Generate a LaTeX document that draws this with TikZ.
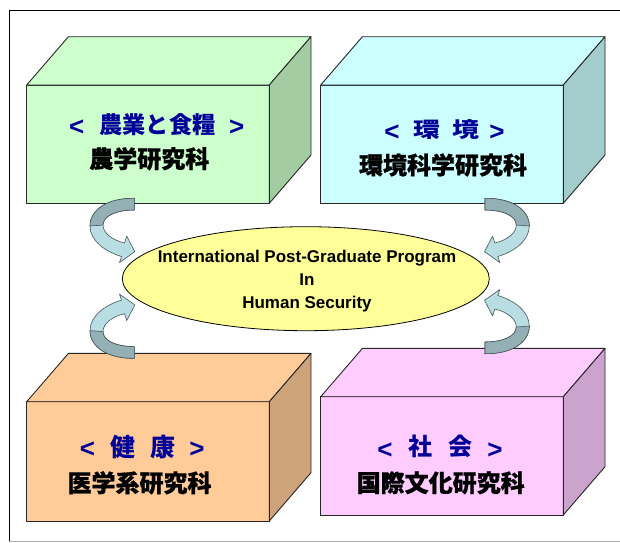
\documentclass[tikz,border=0pt]{standalone}
\usepackage{fontspec}
\setmainfont{Liberation Sans}
\newfontfamily\cjkfont{Noto Sans CJK JP}
\newfontfamily\cjkheavy{Noto Sans CJK JP}[BoldFeatures={FakeBold=0.8}]
\usetikzlibrary{shapes.geometric}
\definecolor{grnF}{RGB}{204,255,204}
\definecolor{grnS}{RGB}{163,204,163}
\definecolor{cyaF}{RGB}{204,255,255}
\definecolor{cyaS}{RGB}{163,204,204}
\definecolor{orgF}{RGB}{255,204,153}
\definecolor{orgS}{RGB}{204,163,122}
\definecolor{pnkF}{RGB}{255,204,255}
\definecolor{pnkS}{RGB}{204,163,204}
\definecolor{arrDark}{RGB}{148,176,181}
\definecolor{arrLight}{RGB}{184,222,228}
\definecolor{arrLine}{RGB}{70,85,90}
\definecolor{ellFill}{RGB}{255,255,153}
\definecolor{lblBlue}{RGB}{0,0,153}
\newcommand{\cubebox}[5]{%
  \begin{scope}[shift={(#1,#2)}]
    \filldraw[boxline, fill=#4] (0,0) rectangle (242.6,#3);
    \filldraw[boxline, fill=#4] (0,0) -- (41.7,-48.3) -- (284.3,-48.3) -- (242.6,0) -- cycle;
    \filldraw[boxline, fill=#5] (242.6,0) -- (284.3,-48.3) -- (284.3,#3-48.3) -- (242.6,#3) -- cycle;
  \end{scope}}
\newcommand{\curlarrow}{%
  \filldraw[arrowline, fill=arrLight] (134.3,198.3) .. controls (107,198) and (90,210) .. (90,226)
    .. controls (90,241) and (106,252) .. (121.5,256.5) -- (119.5,262.5) -- (134.8,251.7)
    -- (126.7,236) -- (124.5,243) .. controls (112,240) and (103,233) .. (103,225)
    .. controls (103,216) and (116,210) .. (134.3,210) -- cycle;
  \filldraw[arrowline, fill=arrDark] (134.3,198.3) .. controls (107,198) and (90,210) .. (90,226)
    -- (103,225) .. controls (103,216) and (116,210) .. (134.3,210) -- cycle;}
\begin{document}
\begin{tikzpicture}[x=1pt,y=-1pt,
  boxline/.style={draw=black!85, line width=0.9pt, line join=round},
  arrowline/.style={draw=arrLine, line width=0.6pt, line join=round},
  blacklbl/.style={inner sep=0pt, text=black, font=\cjkheavy\bfseries\fontsize{24}{24}\selectfont},
  bluecjk/.style={inner sep=0pt, text=lblBlue, font=\cjkfont\bfseries\fontsize{24}{24}\selectfont},
  bluesym/.style={inner sep=0pt, text=lblBlue, font=\bfseries\fontsize{26}{26}\selectfont},
  hstext/.style={inner sep=0pt, align=center, font=\bfseries\fontsize{17}{23}\selectfont}]
\useasboundingbox (0,0) rectangle (620,542);
\clip (0,0) rectangle (620,542);
\fill[white] (0,0) rectangle (620,542);
% frame
\draw[line width=1pt] (630,10.7) -- (9,10.7) -- (9,541.5);
\draw[black!30, line width=1pt] (9,541.5) -- (630,541.5);
% boxes
\cubebox{26.7}{85}{118.3}{grnF}{grnS}
\cubebox{320.7}{85}{118.3}{cyaF}{cyaS}
\cubebox{26.7}{401.7}{119.3}{orgF}{orgS}
\cubebox{320.7}{396.7}{118.3}{pnkF}{pnkS}
% central ellipse
\node[ellipse, draw=black, line width=0.8pt, fill=ellFill, minimum width=367pt, minimum height=104pt, inner sep=0pt] (hs) at (305.8,278.7) {};
\node[hstext] (hslbl) at (307,281.4) {International Post-Graduate Program\\In\\Human Security};
% curved arrows
\curlarrow
\begin{scope}[shift={(619.3,0)}, xscale=-1]\curlarrow\end{scope}
\begin{scope}[shift={(0,556.6)}, yscale=-1]\curlarrow\end{scope}
\begin{scope}[shift={(619.3,552)}, xscale=-1, yscale=-1]\curlarrow\end{scope}
% box 1 labels
\node[bluesym] (a1l) at (76.7,127.5) {<};
\node[bluecjk, font=\cjkfont\bfseries\fontsize{23.2}{24}\selectfont] (a1m) at (157.5,124.2) {農業と食糧};
\node[bluesym] (a1r) at (236.7,127.5) {>};
\node[blacklbl] (a1b) at (149.3,158.7) {農学研究科};
% box 2 labels
\node[bluesym] (a2l) at (392,132.5) {<};
\node[bluecjk, xscale=1.12, yscale=0.88, transform shape] (a2m1) at (426.7,130) {環};
\node[bluecjk, xscale=1.12, yscale=0.88, transform shape] (a2m2) at (465.8,130) {境};
\node[bluesym] (a2r) at (497,132.5) {>};
\node[blacklbl] (a2b) at (443,165) {環境科学研究科};
% box 3 labels
\node[bluesym] (a3l) at (87.5,450) {<};
\node[bluecjk, font=\cjkfont\bfseries\fontsize{25}{25}\selectfont] (a3m1) at (122.5,446.7) {健};
\node[bluecjk, font=\cjkfont\bfseries\fontsize{25}{25}\selectfont] (a3m2) at (162.5,446.7) {康};
\node[bluesym] (a3r) at (197,450) {>};
\node[blacklbl] (a3b) at (139.5,482.8) {医学系研究科};
% box 4 labels
\node[bluesym] (a4l) at (385,450.8) {<};
\node[bluecjk] (a4m1) at (420,446.7) {社};
\node[bluecjk] (a4m2) at (460.8,446.7) {会};
\node[bluesym] (a4r) at (495,450.8) {>};
\node[blacklbl] (a4b) at (440.7,482.8) {国際文化研究科};
\end{tikzpicture}
\end{document}
